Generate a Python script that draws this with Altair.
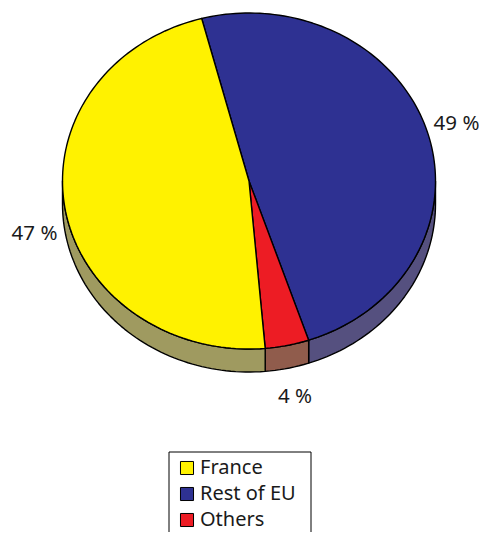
import math
import altair as alt
import pandas as pd

categories = ["France", "Rest of EU", "Others"]
shares = [47.3, 48.9, 3.8]
top_colors = ["#fff200", "#2e3192", "#ed1c24"]
side_colors = ["#9f9a60", "#55507f", "#905c4c"]
labels = ["47 %", "49 %", "4 %"]

# layout (pixels inside the chart)
W, H = 471, 524
CX, CY, RX, RY, DEPTH = 241, 173, 186.5, 168, 23
START = -14.7            # clockwise from top, where Rest of EU begins
LABEL_XY = {"47 %": (26.5, 226), "49 %": (448.5, 116), "4 %": (287, 389)}
BOX = (161, 444, 303, 560)
FONT = "Noto Sans"

# clockwise order as drawn: Rest of EU, Others, France
draw_order = ["Rest of EU", "Others", "France"]
value = dict(zip(categories, shares))


def pt(a, dy=0):
    r = math.radians(a)
    return CX + RX * math.sin(r), CY - RY * math.cos(r) + dy


top_rows, side_rows = [], []
a0 = START
for cat in draw_order:
    a1 = a0 + value[cat] * 3.6
    n = max(2, int((a1 - a0) / 1.5))
    idx = 0
    pts = [(CX, CY)] + [pt(a0 + (a1 - a0) * i / n) for i in range(n + 1)] + [(CX, CY)]
    for x, y in pts:
        top_rows.append(dict(cat=cat, i=idx, x=x, y=y))
        idx += 1
    lo, hi = max(a0, 90), min(a1, 270)
    if hi > lo:
        m = max(2, int((hi - lo) / 1.5))
        arc = [lo + (hi - lo) * i / m for i in range(m + 1)]
        pts = [pt(a) for a in arc] + [pt(a, DEPTH) for a in reversed(arc)] + [pt(lo)]
        for j, (x, y) in enumerate(pts):
            side_rows.append(dict(cat=cat, i=j, x=x, y=y))
    a0 = a1

xs = alt.Scale(domain=[0, W], range=[0, W], nice=False, zero=False)
ys = alt.Scale(domain=[0, H], range=[0, H], nice=False, zero=False)
X = alt.X("x:Q", scale=xs, axis=None)
Y = alt.Y("y:Q", scale=ys, axis=None)

frame = (
    alt.Chart(pd.DataFrame([dict(x=BOX[0], x2=BOX[2], y=BOX[1], y2=BOX[3])]))
    .mark_rect(fill="white", stroke="black", strokeWidth=1, clip=False)
    .encode(x=X, x2="x2:Q", y=Y, y2="y2:Q")
)
side = (
    alt.Chart(pd.DataFrame(side_rows))
    .mark_line(stroke="black", strokeWidth=1.4, strokeJoin="round", clip=False)
    .encode(
        x=X, y=Y, order="i:Q", detail="cat:N",
        fill=alt.Fill("cat:N", scale=alt.Scale(domain=categories, range=side_colors), legend=None),
    )
)
top = (
    alt.Chart(pd.DataFrame(top_rows))
    .mark_line(stroke="black", strokeWidth=1.4, strokeJoin="round", clip=False)
    .encode(
        x=X, y=Y, order="i:Q", detail="cat:N",
        fill=alt.Fill(
            "cat:N",
            scale=alt.Scale(domain=categories, range=top_colors),
            legend=alt.Legend(
                title=None, orient="none", legendX=169, legendY=450,
                padding=0,
                symbolType="square", symbolSize=170, symbolStrokeColor="black",
                symbolStrokeWidth=1, labelFont=FONT, labelFontSize=20,
                labelColor="#1a1a1a", labelOffset=3, rowPadding=6, labelLimit=200,
                symbolOpacity=1,
            ),
        ),
    )
)
text = (
    alt.Chart(pd.DataFrame([dict(t=t, x=LABEL_XY[t][0], y=LABEL_XY[t][1]) for t in labels]))
    .mark_text(font=FONT, fontSize=20.5, color="#1a1a1a", clip=False)
    .encode(x=X, y=Y, text="t:N")
)

chart = (
    alt.layer(frame, side, top, text)
    .resolve_scale(fill="independent")
    .properties(width=W, height=H, padding=0, autosize=alt.AutoSizeParams(type="none"))
    .configure_view(stroke=None)
)
chart.save("out.html", embed_options={"renderer": "svg", "actions": False})
